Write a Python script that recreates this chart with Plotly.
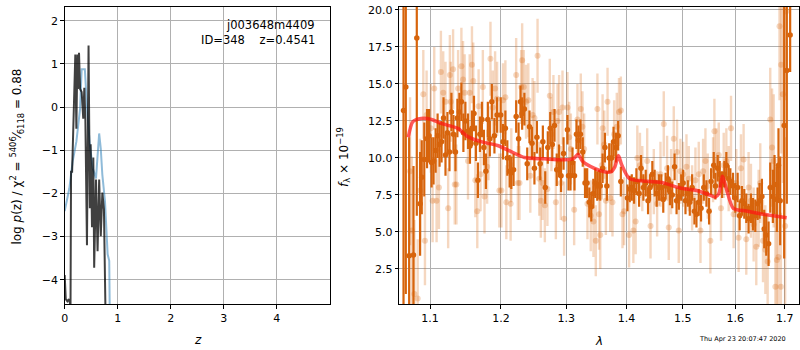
import math
import plotly.graph_objects as go

# ---------------- left panel: log p(z) ----------------
pz_blue_z = [0.0, 0.088, 0.15, 0.22, 0.29, 0.32, 0.38, 0.40, 0.43, 0.475, 0.53, 0.59, 0.65, 0.68, 0.71, 0.76, 0.81, 0.84, 0.85]
pz_blue_y = [-2.41, -1.88, -1.26, -0.80, -0.04, 0.88, 0.88, 0.42, -0.19, -0.88, -1.42, -1.65, -0.61, -0.96, -1.57, -2.18, -3.41, -3.56, -4.8]

pz_dark_z = [0.0, 0.01, 0.02, 0.05, 0.08, 0.11, 0.12, 0.14, 0.18, 0.20, 0.22, 0.24, 0.25, 0.27, 0.29, 0.32, 0.35, 0.37, 0.39, 0.42,
             0.45, 0.475, 0.49, 0.515, 0.54, 0.556, 0.59, 0.62, 0.65, 0.68, 0.71, 0.74, 0.77]
pz_dark_y = [-3.89, -4.2, -4.45, -4.5, -4.45, -4.6, -1.5, -1.5, 0.12, 1.22, -0.5, 1.22, 0.42, 1.26, 0.42, 0.35, -0.27, 0.45, -0.3, -3.2,
             1.43, -2.34, -0.86, -2.78, -1.17, -3.72, -1.68, -3.34, -1.68, -2.99, -1.98, -2.37, -4.8]

# ---------------- right panel: spectrum ----------------
dark_wave = [1.0647, 1.0677, 1.0721, 1.0778, 1.0822, 1.0866, 1.0888, 1.0922, 1.0959, 1.0986,
             1.1020, 1.1047, 1.1075, 1.1102, 1.1129, 1.1156, 1.1183, 1.1210, 1.1237, 1.1265,
             1.1292, 1.1320, 1.1348, 1.1375, 1.1403, 1.1431, 1.1459, 1.1487, 1.1524, 1.1552,
             1.1580, 1.1609, 1.1637, 1.1665, 1.1694, 1.1722, 1.1751, 1.1780, 1.1808, 1.1837,
             1.1866, 1.1904, 1.1943, 1.1996, 1.2030, 1.2065, 1.2094, 1.2128, 1.2153, 1.2187,
             1.2226, 1.2262, 1.2291, 1.2316, 1.2350, 1.2393, 1.2427, 1.2466, 1.2503, 1.2541,
             1.2592, 1.2633, 1.2670, 1.2710, 1.2748, 1.2780, 1.2815, 1.2850, 1.2885, 1.2918,
             1.2958, 1.3020, 1.3037, 1.3069, 1.3101, 1.3133, 1.3165, 1.3197, 1.3229, 1.3267,
             1.3304, 1.3337, 1.3374, 1.3407, 1.3440, 1.3472, 1.3505, 1.3539, 1.3555, 1.3594,
             1.3633, 1.3666, 1.3705, 1.3744, 1.3778, 1.3817, 1.3856, 1.3902, 1.4015, 1.4055,
             1.4090, 1.4130, 1.4170, 1.4217, 1.4251, 1.4292, 1.4333, 1.4374, 1.4409, 1.4450,
             1.4491, 1.4527, 1.4568, 1.4610, 1.4645, 1.4687, 1.4729, 1.4765, 1.4807, 1.4850,
             1.4886, 1.4928, 1.4971, 1.5007, 1.5050, 1.5093, 1.5130, 1.5173, 1.5216, 1.5254,
             1.5297, 1.5340, 1.5392, 1.5442, 1.5492, 1.5530, 1.5581, 1.5613, 1.5657, 1.5696,
             1.5741, 1.5785, 1.5824, 1.5869, 1.5902, 1.5954, 1.5999, 1.6045, 1.6084, 1.6130,
             1.6176, 1.6216, 1.6262, 1.6309, 1.6349, 1.6396, 1.6443, 1.6483, 1.6530, 1.6577,
             1.6618, 1.6666, 1.6700, 1.6754, 1.6788, 1.6836, 1.6870, 1.6905, 1.6988, 1.7043,
             1.7113]
dark_flux = [13.2, 14.8, 3.4, 3.45, 18.1, 6.9, 8.7, 9.9, 11.3, 11.5,
             9.7, 9.8, 10.5, 11.5, 10.9, 11.1, 12.7, 10.2, 11.7, 10.4,
             13.1, 11.6, 10.4, 12.7, 13.1, 13.8, 11.7, 12.5, 11.8, 10.8,
             12.0, 13.0, 11.0, 8.5, 11.6, 12.6, 10.7, 9.1, 12.6, 11.3,
             13.8, 11.5, 12.9, 12.9, 11.1, 12.0, 10.0, 9.1, 9.0, 9.2,
             12.8, 11.3, 13.8, 13.0, 13.3, 9.6, 12.1, 11.0, 9.3, 11.4,
             9.6, 11.1, 8.0, 10.7, 12.0, 10.9, 12.2, 9.2, 9.8, 8.8,
             10.3, 11.9, 8.8, 8.8, 9.7, 8.8, 11.6, 11.2, 11.6, 10.4,
             8.3, 8.3, 7.0, 6.7, 7.6, 8.3, 8.1, 8.2, 8.1, 9.3,
             10.7, 8.1, 10.0, 10.0, 11.1, 10.7, 11.5, 8.4, 7.3, 7.9,
             8.0, 7.8, 8.4, 7.6, 9.3, 8.0, 8.3, 7.1, 8.0, 8.9,
             8.3, 7.6, 8.0, 8.0, 7.2, 8.1, 8.6, 7.7, 7.5, 9.4,
             7.1, 7.4, 8.0, 8.3, 7.1, 7.6, 7.0, 8.0, 6.4, 6.2,
             7.0, 6.6, 8.0, 7.6, 6.4, 8.4, 9.5, 8.1, 9.3, 8.9,
             8.2, 8.9, 9.5, 8.6, 8.4, 8.1, 7.3, 8.0, 6.1, 7.1,
             6.9, 6.6, 5.9, 6.6, 6.2, 6.1, 6.9, 7.1, 7.4, 5.2,
             4.8, 4.2, 8.0, 7.4, 8.2, 7.2, 9.5, 7.1, 12.2, 15.9,
             18.3]
dark_err = [14, 14, 8, 6, 12, 3.5, 2.5, 2.5, 2.0, 1.8,
            1.7, 1.6, 1.5, 1.5, 1.5, 1.4, 1.4, 1.4, 1.4, 1.3,
            1.3, 1.3, 1.3, 1.3, 1.3, 1.3, 1.3, 1.3, 1.2, 1.2,
            1.2, 1.2, 1.2, 1.2, 1.2, 1.2, 1.2, 1.2, 1.2, 1.2,
            1.2, 1.2, 1.2, 1.2, 1.2, 1.2, 1.2, 1.1, 1.1, 1.1,
            1.1, 1.1, 1.1, 1.1, 1.1, 1.1, 1.1, 1.1, 1.1, 1.1,
            1.1, 1.1, 1.1, 1.1, 1.1, 1.1, 1.1, 1.1, 1.1, 1.1,
            1.1, 1.0, 1.0, 1.0, 1.0, 1.0, 1.0, 1.0, 1.0, 1.0,
            1.0, 1.0, 1.0, 1.0, 1.0, 1.0, 1.0, 1.0, 1.0, 1.0,
            1.0, 1.0, 1.0, 1.0, 1.0, 1.0, 1.0, 1.0, 0.9, 0.9,
            0.9, 0.9, 0.9, 0.9, 0.9, 0.9, 0.9, 0.9, 0.9, 0.9,
            0.9, 0.9, 0.9, 0.9, 0.9, 0.9, 0.9, 0.9, 0.9, 0.9,
            0.9, 0.9, 0.9, 0.9, 0.9, 0.9, 0.9, 0.9, 0.9, 0.9,
            0.9, 0.9, 0.9, 0.9, 0.9, 0.9, 0.9, 0.9, 0.9, 0.9,
            0.9, 0.9, 0.9, 0.9, 0.9, 0.9, 1.0, 1.0, 1.0, 1.0,
            1.0, 1.0, 1.0, 1.0, 1.1, 1.1, 1.1, 1.2, 1.2, 1.3,
            1.4, 1.5, 1.7, 1.8, 2.0, 2.2, 2.5, 3.0, 9.0, 9.0,
            2.5]

light_wave = [1.0733, 1.0756, 1.0790, 1.0834, 1.0866, 1.0909, 1.0931, 1.0953, 1.1010, 1.1034,
              1.1056, 1.1088, 1.1120, 1.1147, 1.1179, 1.1210, 1.1247, 1.1270, 1.1283, 1.1315,
              1.1338, 1.1361, 1.1385, 1.1431, 1.1454, 1.1477, 1.1524, 1.1548, 1.1580, 1.1599,
              1.1628, 1.1656, 1.1675, 1.1703, 1.1736, 1.1760, 1.1798, 1.1818, 1.1846, 1.1880,
              1.1914, 1.1943, 1.1976, 1.2006, 1.2030, 1.2065, 1.2079, 1.2143, 1.2153, 1.2226,
              1.2251, 1.2276, 1.2301, 1.2316, 1.2340, 1.2375, 1.2410, 1.2440, 1.2475, 1.2503,
              1.2551, 1.2577, 1.2602, 1.2628, 1.2664, 1.2704, 1.2741, 1.2767, 1.2798, 1.2836,
              1.2862, 1.2888, 1.2914, 1.2941, 1.2967, 1.3021, 1.3048, 1.3075, 1.3128, 1.3181,
              1.3235, 1.3262, 1.3290, 1.3344, 1.3398, 1.3442, 1.3481, 1.3508, 1.3535, 1.3555,
              1.3580, 1.3594, 1.3622, 1.3649, 1.3677, 1.3722, 1.3760, 1.3788, 1.3833, 1.3871,
              1.3902, 1.3930, 1.3958, 1.4043, 1.4117, 1.4157, 1.4186, 1.4232, 1.4273, 1.4359,
              1.4418, 1.4476, 1.4535, 1.4595, 1.4654, 1.4714, 1.4744, 1.4786, 1.4835, 1.4895,
              1.4926, 1.4956, 1.5007, 1.5068, 1.5111, 1.5173, 1.5235, 1.5297, 1.5329, 1.5379,
              1.5423, 1.5467, 1.5517, 1.5568, 1.5594, 1.5632, 1.5677, 1.5721, 1.5773, 1.5824,
              1.5869, 1.5915, 1.5966, 1.6018, 1.6064, 1.6110, 1.6163, 1.6216, 1.6262, 1.6309,
              1.6363, 1.6416, 1.6464, 1.6497, 1.6552, 1.6600, 1.6647, 1.6700, 1.6737, 1.6771,
              1.6805, 1.6836, 1.6870, 1.6891, 1.6919, 1.6925, 1.6960, 1.7008, 1.7029]
light_flux = [9.1, 5.1, 0.8, 0.5, 7.8, 14.3, 4.4, 12.9, 12.0, 7.1,
              14.7, 7.1, 8.0, 15.8, 14.4, 13.8, 6.6, 15.6, 13.8, 16.0,
              8.2, 8.2, 14.7, 16.2, 15.3, 14.4, 9.8, 14.4, 16.3, 15.2,
              8.5, 6.4, 13.5, 8.9, 14.8, 7.4, 9.4, 11.0, 16.7, 13.4,
              14.7, 14.0, 7.8, 7.8, 13.9, 14.1, 7.0, 6.9, 9.5, 15.6,
              8.3, 8.3, 14.8, 16.6, 14.8, 13.8, 13.9, 8.8, 12.9, 12.7,
              16.9, 8.6, 7.1, 8.3, 6.8, 7.9, 14.2, 11.6, 13.1, 7.0,
              12.5, 13.1, 8.3, 13.4, 5.9, 13.4, 11.4, 10.6, 6.5, 12.6,
              13.3, 12.1, 10.6, 6.9, 6.1, 5.7, 4.4, 13.3, 6.2, 4.8,
              9.5, 12.0, 10.9, 7.1, 13.8, 7.3, 7.0, 11.6, 12.1, 13.1,
              13.2, 6.2, 6.4, 4.8, 5.1, 5.7, 10.0, 9.5, 8.6, 9.8,
              5.4, 8.4, 6.9, 8.9, 12.3, 9.3, 5.3, 8.4, 11.3, 10.4,
              5.1, 9.1, 8.9, 9.4, 8.6, 7.3, 8.5, 8.9, 5.1, 9.1,
              9.8, 8.1, 4.4, 9.2, 11.8, 9.8, 10.2, 6.6, 9.5, 9.8,
              8.6, 12.0, 6.2, 8.3, 4.6, 9.3, 9.9, 4.5, 8.0, 7.1,
              5.5, 4.0, 6.6, 8.3, 4.4, 3.8, 3.0, 12.6, 10.7, 9.8,
              1.3, 3.1, 3.3, 18.9, 1.3, 16.3, 14.3, 5.4, 19.9]
light_err = [5.0, 5.0, 5.0, 4.0, 3.5, 3.0, 3.0, 3.0, 3.0, 2.8,
             2.8, 2.8, 2.8, 2.8, 2.8, 2.7, 2.7, 2.7, 2.7, 2.7,
             2.7, 2.7, 2.6, 2.6, 2.6, 2.6, 2.6, 2.6, 2.6, 2.6,
             2.5, 2.5, 2.5, 2.5, 2.5, 2.5, 2.5, 2.5, 2.5, 2.5,
             2.5, 2.5, 2.5, 2.5, 2.5, 2.5, 2.5, 2.5, 2.5, 2.5,
             2.5, 2.5, 2.5, 2.5, 2.5, 2.5, 2.5, 2.5, 2.5, 2.5,
             2.5, 2.5, 2.5, 2.5, 2.5, 2.5, 2.5, 2.5, 2.5, 2.5,
             2.5, 2.5, 2.5, 2.5, 2.5, 2.4, 2.4, 2.4, 2.4, 2.4,
             2.4, 2.4, 2.4, 2.4, 2.4, 2.4, 2.4, 2.4, 2.4, 2.3,
             2.3, 2.3, 2.3, 2.3, 2.3, 2.3, 2.3, 2.3, 2.3, 2.3,
             2.3, 2.3, 2.3, 2.2, 2.2, 2.2, 2.2, 2.2, 2.2, 2.2,
             2.2, 2.2, 2.2, 2.2, 2.2, 2.2, 2.2, 2.2, 2.2, 2.2,
             2.2, 2.2, 2.2, 2.2, 2.2, 2.2, 2.2, 2.2, 2.2, 2.2,
             2.2, 2.2, 2.2, 2.2, 2.2, 2.2, 2.2, 2.2, 2.2, 2.2,
             2.2, 2.2, 2.3, 2.3, 2.3, 2.3, 2.4, 2.4, 2.4, 2.5,
             2.5, 2.6, 2.6, 2.7, 2.8, 3.0, 3.2, 3.5, 4.0, 4.5,
             5.0, 5.0, 5.0, 5.0, 5.0, 6.0, 6.0, 6.0, 6.0]

model_wave = [1.071, 1.077, 1.088, 1.102, 1.115, 1.138, 1.152, 1.171, 1.195, 1.215,
              1.235, 1.265, 1.297, 1.307, 1.313, 1.319, 1.326, 1.345, 1.364, 1.373,
              1.380, 1.386, 1.392, 1.405, 1.436, 1.465, 1.495, 1.526, 1.548, 1.561,
              1.568, 1.575, 1.582, 1.596, 1.622, 1.656, 1.704]
model_flux = [11.4, 12.45, 12.67, 12.6, 12.33, 12.0, 11.44, 11.1, 10.84, 10.43,
              10.03, 9.94, 9.87, 9.9, 10.0, 10.25, 9.8, 9.31, 9.05, 9.05,
              9.4, 10.16, 9.5, 8.6, 8.42, 8.31, 7.97, 7.8, 7.53, 7.35,
              7.6, 8.76, 7.97, 6.59, 6.41, 6.19, 5.96]

left_xticks = [0, 1, 2, 3, 4]
left_yticks = [-4, -3, -2, -1, 0, 1, 2]
right_xticks = [1.1, 1.2, 1.3, 1.4, 1.5, 1.6, 1.7]
right_yticks = [2.5, 5.0, 7.5, 10.0, 12.5, 15.0, 17.5, 20.0]

FONT = "DejaVu Sans"
ORANGE = "rgb(215,100,12)"
LIGHT = "rgba(215,100,12,0.26)"

fig = go.Figure()

fig.add_trace(go.Scatter(x=pz_blue_z, y=pz_blue_y, mode="lines",
                         line=dict(color="rgba(31,119,180,0.5)", width=2),
                         xaxis="x", yaxis="y", showlegend=False))
fig.add_trace(go.Scatter(x=pz_dark_z, y=pz_dark_y, mode="lines",
                         line=dict(color="rgba(0,0,0,0.75)", width=2),
                         xaxis="x", yaxis="y", showlegend=False))

fig.add_trace(go.Scatter(x=light_wave, y=light_flux, mode="markers",
                         marker=dict(color=LIGHT, size=6),
                         error_y=dict(type="data", array=light_err, color=LIGHT, thickness=2.4, width=0),
                         xaxis="x2", yaxis="y2", showlegend=False, cliponaxis=True))
fig.add_trace(go.Scatter(x=dark_wave, y=dark_flux, mode="markers",
                         marker=dict(color=ORANGE, size=5.5),
                         error_y=dict(type="data", array=dark_err, color=ORANGE, thickness=2.2, width=0),
                         xaxis="x2", yaxis="y2", showlegend=False, cliponaxis=True))
fig.add_trace(go.Scatter(x=model_wave, y=model_flux, mode="lines",
                         line=dict(color="rgba(255,20,20,0.7)", width=3.5, shape="spline", smoothing=0.7),
                         xaxis="x2", yaxis="y2", showlegend=False))

axis_common = dict(showline=True, mirror=True, linecolor="black", linewidth=1,
                   ticks="outside", ticklen=3.5, tickcolor="black", tickwidth=1,
                   showgrid=True, gridcolor="#b0b0b0", gridwidth=1, zeroline=False,
                   tickfont=dict(family=FONT, size=11, color="black"))

W, H = 800, 350
ytop, ybot = 4, 304
dom_y = [(H - ybot) / H, (H - ytop) / H]

fig.update_layout(
    width=W, height=H, margin=dict(l=0, r=0, t=0, b=0),
    paper_bgcolor="white", plot_bgcolor="white",
    font=dict(family=FONT, size=11, color="black"),
    xaxis=dict(domain=[61 / W, 328 / W], range=[0, 5.01], tickvals=left_xticks, anchor="y", **axis_common),
    yaxis=dict(domain=dom_y, range=[-4.57, 2.32], tickvals=left_yticks, anchor="x", **axis_common),
    xaxis2=dict(domain=[397.2 / W, 799 / W], type="log",
                range=[math.log10(1.0591), math.log10(1.7300)],
                tickvals=right_xticks, ticktext=["%.1f" % v for v in right_xticks], anchor="y2", **axis_common),
    yaxis2=dict(domain=dom_y, range=[0.105, 20.2], tickvals=right_yticks,
                ticktext=["%.1f" % v for v in right_yticks], anchor="x2", **axis_common),
)

ann = [
    dict(x=315 / W, y=1 - 22 / H, text="j003648m4409", xanchor="right", yanchor="middle", font=dict(size=11.5)),
    dict(x=315 / W, y=1 - 37 / H, text="ID=348    z=0.4541", xanchor="right", yanchor="middle", font=dict(size=11.5)),
    dict(x=13 / W, y=1 - 155 / H, text="log <i>p</i>(z) / χ<sup>2</sup> = <sup>5406</sup>⁄<sub>6118</sub> = 0.88",
         textangle=-90, xanchor="center", yanchor="middle", font=dict(size=12)),
    dict(x=341 / W, y=1 - 155 / H, text="<i>f</i><sub>λ</sub> × 10<sup>−19</sup>",
         textangle=-90, xanchor="center", yanchor="middle", font=dict(size=12)),
    dict(x=195 / W, y=1 - 340 / H, text="<i>z</i>", xanchor="center", yanchor="middle", font=dict(size=12)),
    dict(x=598 / W, y=1 - 341 / H, text="<i>λ</i>", xanchor="center", yanchor="middle", font=dict(size=12)),
    dict(x=742 / W, y=1 - 339 / H, text="Thu Apr 23 20:07:47 2020", xanchor="center", yanchor="middle",
         font=dict(size=6.5)),
]
for a in ann:
    a.update(xref="paper", yref="paper", showarrow=False)
fig.update_layout(annotations=ann)

fig.write_html("out.html", config={"displayModeBar": False})

# remove the browser's default page margin so the figure sits at (0, 0)
with open("out.html", "r", encoding="utf-8") as fh:
    html = fh.read()
html = html.replace("<head>", "<head><style>html,body{margin:0;padding:0;overflow:hidden;}</style>", 1)
with open("out.html", "w", encoding="utf-8") as fh:
    fh.write(html)
